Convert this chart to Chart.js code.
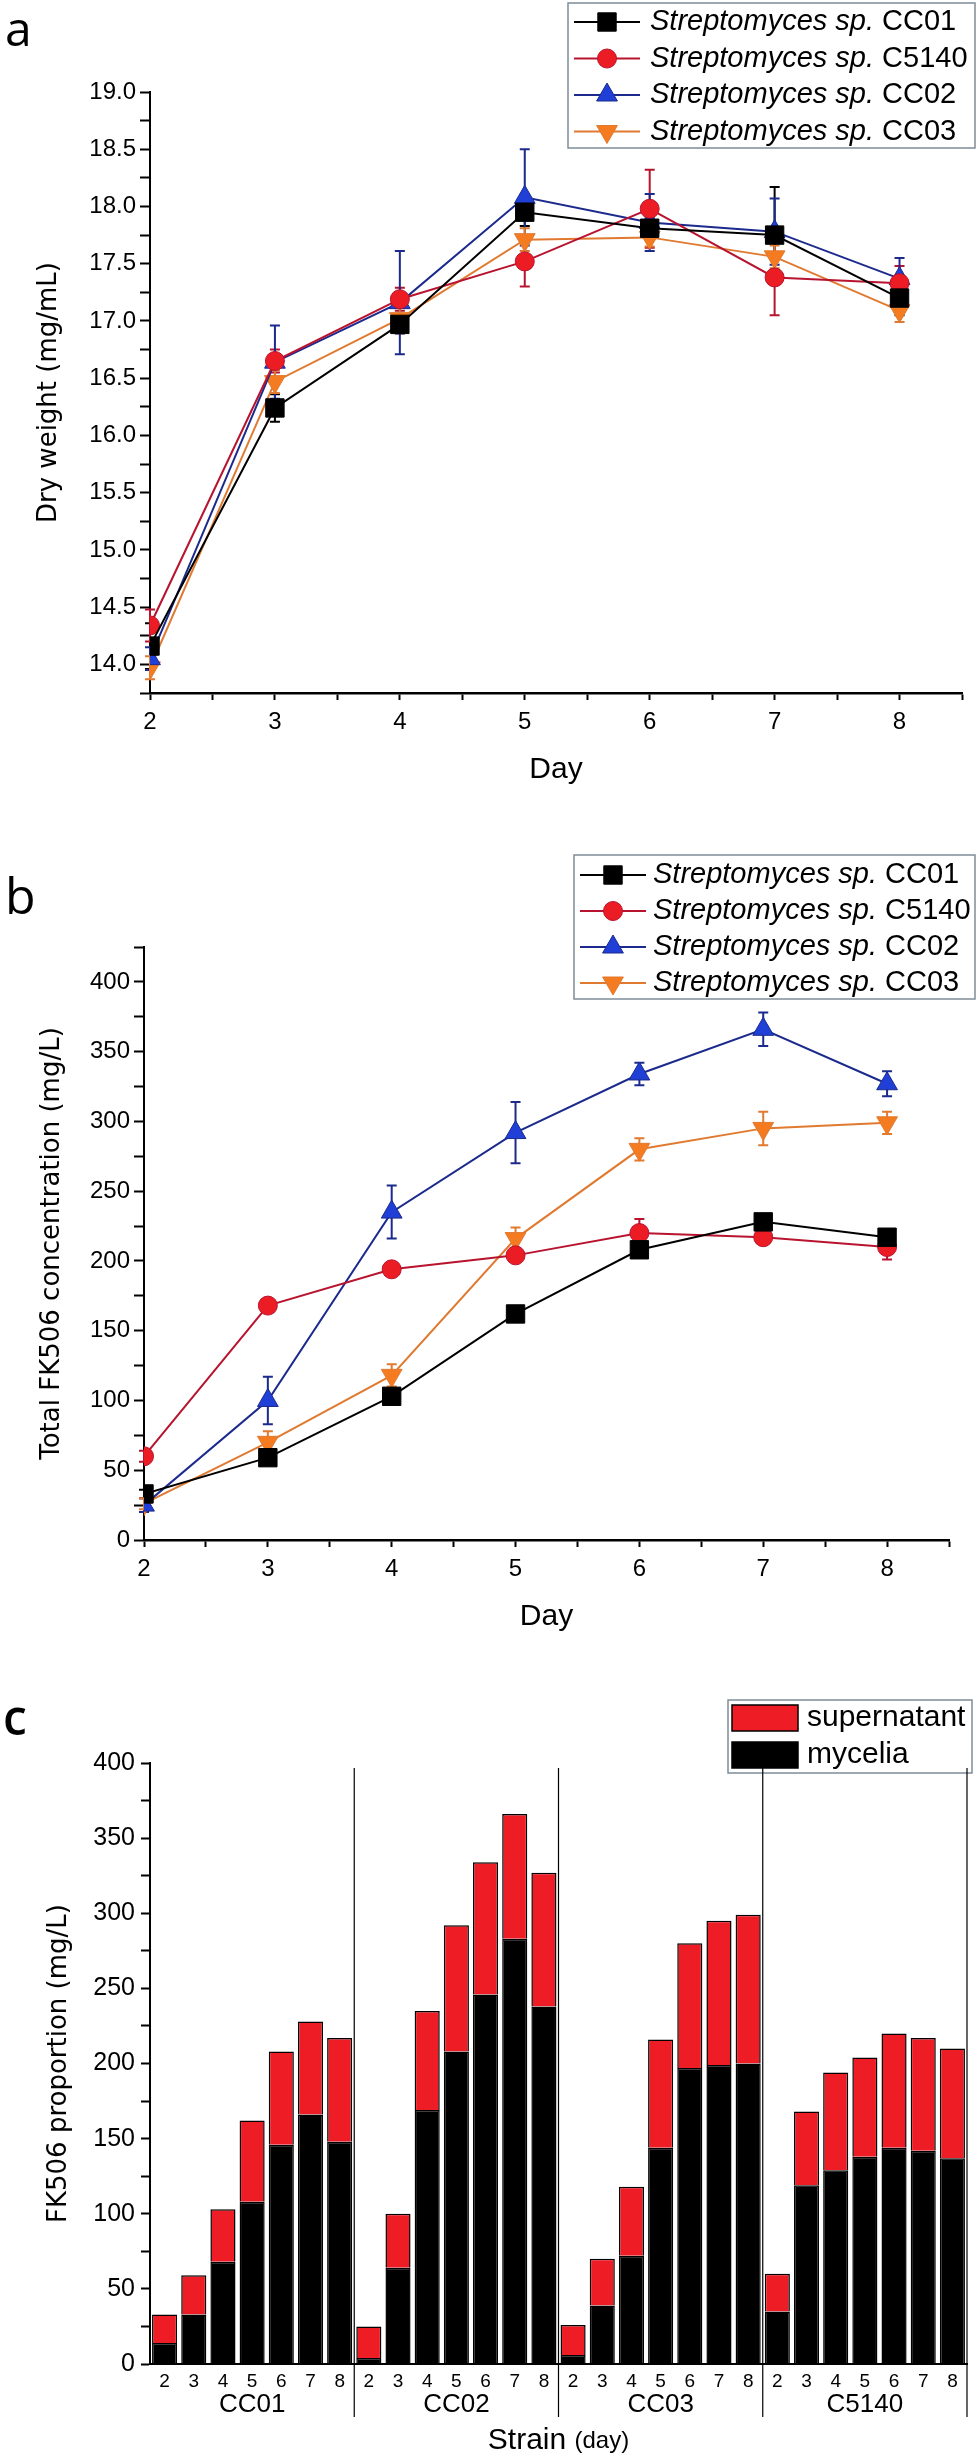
<!DOCTYPE html>
<html>
<head>
<meta charset="utf-8">
<script src="https://cdn.jsdelivr.net/npm/chart.js@4.4.1/dist/chart.umd.min.js"></script>
<style>
  html, body { margin: 0; padding: 0; background: #fff; }
  #page { position: relative; width: 979px; height: 2458px; background: #fff; overflow: hidden; }
  .panel { position: absolute; left: 0; width: 979px; }
  .tag { position: absolute; font-family: "Open Sans", "Liberation Sans", sans-serif; color: #000; line-height: 1; }
</style>
</head>
<body>
<div id="page">
  <div class="panel" style="top:0; height:800px;"><canvas id="chartA" width="979" height="800"></canvas></div>
  <div class="panel" style="top:800px; height:850px;"><canvas id="chartB" width="979" height="850"></canvas></div>
  <div class="panel" style="top:1650px; height:808px;"><canvas id="chartC" width="979" height="808"></canvas></div>
  <div class="tag" style="left:5px; top:4px; font-size:48px;">a</div>
  <div class="tag" style="left:5px; top:870px; font-size:50px;">b</div>
  <div class="tag" style="left:3px; top:1693px; font-size:48px; font-weight:600;">c</div>
</div>
<script>
// ---- data ----
const days = [2, 3, 4, 5, 6, 7, 8]
const strains = ["CC01", "C5140", "CC02", "CC03"]

// a: dry weight (mg/mL)
const dryCC01 = [14.16, 16.24, 16.97, 17.95, 17.81, 17.75, 17.2]
const dryC5140 = [14.34, 16.65, 17.19, 17.52, 17.98, 17.38, 17.33]
const dryCC02 = [14.05, 16.64, 17.16, 18.08, 17.86, 17.78, 17.37]
const dryCC03 = [13.97, 16.47, 17.02, 17.71, 17.73, 17.56, 17.09]
const dryErrCC01 = [0.2, 0.12, 0.08, 0.12, 0.1, 0.42, 0.15]
const dryErrC5140 = [0.14, 0.1, 0.1, 0.22, 0.34, 0.33, 0.15]
const dryErrCC02 = [0.1, 0.32, 0.45, 0.42, 0.25, 0.29, 0.18]
const dryErrCC03 = [0.1, 0.1, 0.1, 0.1, 0.08, 0.1, 0.1]

// b: total FK506 concentration (mg/L)
const fkCC01 = [33, 59, 103, 162, 208, 228, 217]
const fkC5140 = [60, 168, 194, 204, 220, 217, 210]
const fkCC02 = [25, 100, 235, 292, 334, 366, 327]
const fkCC03 = [26, 70, 118, 216, 280, 295, 299]
const fkErrCC01 = [3, 3, 3, 3, 4, 3, 5]
const fkErrC5140 = [4, 3, 3, 4, 10, 4, 9]
const fkErrCC02 = [5, 17, 19, 22, 8, 12, 9]
const fkErrCC03 = [4, 8, 8, 8, 8, 12, 8]

// c: FK506 held in mycelia (mg/L); the rest of the total is supernatant
const barGroups = ["CC01", "CC02", "CC03", "C5140"]
const myCC01 = [14, 33, 68, 108, 146, 166, 148]
const myCC02 = [4, 64, 169, 208, 246, 283, 238]
const myCC03 = [6, 39, 72, 144, 197, 199, 200]
const myC5140 = [35, 119, 129, 138, 144, 142, 137]

// ---- styles ----
const FONT = "'Liberation Sans', Arial, sans-serif"
const TITLE_FONT = "'DejaVu Sans', sans-serif"

const seriesStyle = {
  CC01: { line: "#000000", fill: "#000000", edge: "#000000", shape: "rect", rot: 0, r: 13 },
  C5140: { line: "#b8142f", fill: "#ec1c24", edge: "#b8142f", shape: "circle", rot: 0, r: 9.5 },
  CC02: { line: "#1b2a8c", fill: "#1f3fd6", edge: "#1b2a8c", shape: "triangle", rot: 0, r: 12 },
  CC03: { line: "#e07a30", fill: "#f47b20", edge: "#e07a30", shape: "triangle", rot: 180, r: 12 },
}

// error bars drawn under the markers
const errorBars = {
  id: "errorBars",
  beforeDatasetsDraw(chart) {
    const { ctx } = chart
    const x = chart.scales.x
    const y = chart.scales.y
    chart.data.datasets.forEach((ds) => {
      if (!ds.errors) return
      ctx.save()
      ctx.strokeStyle = ds.borderColor
      ctx.lineWidth = 2
      ds.data.forEach((p, j) => {
        const e = ds.errors[j]
        const px = x.getPixelForValue(p.x)
        const top = y.getPixelForValue(p.y + e)
        const bot = y.getPixelForValue(p.y - e)
        ctx.beginPath()
        ctx.moveTo(px, top)
        ctx.lineTo(px, bot)
        ctx.moveTo(px - 5, top)
        ctx.lineTo(px + 5, top)
        ctx.moveTo(px - 5, bot)
        ctx.lineTo(px + 5, bot)
        ctx.stroke()
      })
      ctx.restore()
    })
  },
}

// boxed legend with italic genus part
const boxLegend = {
  id: "boxLegend",
  afterDraw(chart, args, opts) {
    if (!opts || !opts.rows) return
    const ctx = chart.ctx
    ctx.save()
    ctx.fillStyle = "#fff"
    ctx.fillRect(opts.x, opts.y, opts.w, opts.h)
    ctx.strokeStyle = "#7f8c97"
    ctx.lineWidth = 1.5
    ctx.strokeRect(opts.x, opts.y, opts.w, opts.h)
    ctx.textBaseline = "middle"
    opts.rows.forEach((row, k) => {
      const cy = opts.y + opts.first + k * opts.step
      const x0 = opts.x + 6
      if (row.swatch) {
        ctx.fillStyle = row.swatch
        ctx.fillRect(x0 - 2, cy - 13, 66, 26)
        ctx.strokeStyle = "#000"
        ctx.lineWidth = 1.5
        ctx.strokeRect(x0 - 2, cy - 13, 66, 26)
      } else {
        const st = seriesStyle[row.name]
        ctx.strokeStyle = st.line
        ctx.lineWidth = 2
        ctx.beginPath()
        ctx.moveTo(x0, cy)
        ctx.lineTo(x0 + 66, cy)
        ctx.stroke()
        ctx.fillStyle = st.fill
        ctx.strokeStyle = st.edge
        ctx.lineWidth = 1
        Chart.helpers.drawPoint(ctx, { pointStyle: st.shape, rotation: st.rot, radius: st.r, borderWidth: 1 }, x0 + 33, cy)
      }
      ctx.fillStyle = "#000"
      let tx = opts.x + opts.textX
      if (row.italic) {
        ctx.font = "italic " + opts.size + "px " + FONT
        ctx.fillText(row.italic, tx, cy)
        tx += ctx.measureText(row.italic).width
      }
      ctx.font = opts.size + "px " + FONT
      ctx.fillText(row.text, tx, cy)
    })
    ctx.restore()
  },
}

Chart.register(errorBars, boxLegend)

const fixWidth = (w) => (scale) => { scale.width = w }
const fixHeight = (h) => (scale) => { scale.height = h }
const isStep = (v, s) => Math.abs(v / s - Math.round(v / s)) < 1e-6

function lineDatasets(values, errors) {
  return strains.map((name, i) => {
    const st = seriesStyle[name]
    return {
      label: "Streptomyces sp. " + name,
      data: days.map((d, j) => ({ x: d, y: values[i][j] })),
      errors: errors[i],
      borderColor: st.line,
      borderWidth: 2,
      pointStyle: st.shape,
      pointRotation: st.rot,
      pointRadius: st.r,
      pointHoverRadius: st.r,
      pointBackgroundColor: st.fill,
      pointBorderColor: st.edge,
      pointBorderWidth: 1,
      tension: 0,
    }
  })
}

function legendRows() {
  return strains.map((name) => ({ name: name, italic: "Streptomyces sp.", text: " " + name }))
}

function lineOptions(c) {
  return {
    responsive: false,
    animation: false,
    events: [],
    layout: { padding: { top: c.top, right: c.right, left: 0, bottom: 0 } },
    plugins: {
      legend: { display: false },
      tooltip: { enabled: false },
      boxLegend: c.legend,
    },
    scales: {
      x: {
        type: "linear",
        min: 2,
        max: 8.5,
        afterFit: fixHeight(c.xh),
        ticks: {
          stepSize: 0.5,
          autoSkip: false,
          maxRotation: 0,
          padding: 8,
          color: "#000",
          font: { family: FONT, size: 24 },
          callback: (v) => (isStep(v, 1) ? String(v) : ""),
        },
        grid: { drawOnChartArea: false, tickLength: 7, tickColor: "#000", tickWidth: 2 },
        border: { color: "#000", width: 2.5 },
        title: { display: true, text: "Day", color: "#000", font: { family: FONT, size: 30 }, padding: { top: 0, bottom: c.xtp } },
      },
      y: {
        min: c.ymin,
        max: c.ymax,
        afterFit: fixWidth(c.yw),
        ticks: {
          stepSize: c.ystep,
          autoSkip: false,
          padding: 4,
          color: "#000",
          font: { family: FONT, size: 24 },
          callback: (v) => (isStep(v, c.ylab) ? v.toFixed(c.ydec) : ""),
        },
        grid: { drawOnChartArea: false, tickLength: 10, tickColor: "#000", tickWidth: 2 },
        border: { color: "#000", width: 2 },
        title: { display: true, text: c.ytitle, color: "#000", font: { family: TITLE_FONT, size: 26 }, padding: { top: c.ytp, bottom: 0 } },
      },
    },
  }
}

// ---- panel a ----
new Chart(document.getElementById("chartA"), {
  type: "line",
  data: {
    datasets: lineDatasets([dryCC01, dryC5140, dryCC02, dryCC03], [dryErrCC01, dryErrC5140, dryErrCC02, dryErrCC03]),
  },
  options: lineOptions({
    top: 92, right: 17, xh: 107, yw: 150, xtp: 12, ytp: 34,
    ymin: 13.75, ymax: 19, ystep: 0.25, ylab: 0.5, ydec: 1,
    ytitle: "Dry weight (mg/mL)",
    legend: { x: 568, y: 3, w: 407, h: 145, first: 19, step: 36.5, textX: 82, size: 29, rows: legendRows() },
  }),
})

// ---- panel b ----
new Chart(document.getElementById("chartB"), {
  type: "line",
  data: {
    datasets: lineDatasets([fkCC01, fkC5140, fkCC02, fkCC03], [fkErrCC01, fkErrC5140, fkErrCC02, fkErrCC03]),
  },
  options: lineOptions({
    top: 147, right: 30, xh: 110, yw: 144, xtp: 15, ytp: 37,
    ymin: 0, ymax: 425, ystep: 25, ylab: 50, ydec: 0,
    ytitle: "Total FK506 concentration (mg/L)",
    legend: { x: 574, y: 55, w: 401, h: 144, first: 20, step: 36, textX: 79, size: 29, rows: legendRows() },
  }),
})

// ---- panel c ----
const totalsByGroup = { CC01: fkCC01, CC02: fkCC02, CC03: fkCC03, C5140: fkC5140 }
const myceliaByGroup = { CC01: myCC01, CC02: myCC02, CC03: myCC03, C5140: myC5140 }
const barLabels = barGroups.flatMap(() => days.map(String))
const mycelia = barGroups.flatMap((g) => myceliaByGroup[g])
const supernatant = barGroups.flatMap((g) => totalsByGroup[g].map((t, j) => t - myceliaByGroup[g][j]))

const groupMarks = {
  id: "groupMarks",
  afterDraw(chart) {
    if (chart.canvas.id !== "chartC") return
    const { ctx, chartArea } = chart
    const x = chart.scales.x
    const step = x.getPixelForValue(1) - x.getPixelForValue(0)
    ctx.save()
    ctx.strokeStyle = "#000"
    ctx.lineWidth = 1.2
    ctx.fillStyle = "#000"
    ctx.textAlign = "center"
    ctx.textBaseline = "middle"
    ctx.font = "26px " + FONT
    barGroups.forEach((g, k) => {
      const first = x.getPixelForValue(k * days.length)
      const last = x.getPixelForValue(k * days.length + days.length - 1)
      const edge = last + step / 2
      ctx.beginPath()
      ctx.moveTo(edge, chartArea.top + 5)
      ctx.lineTo(edge, chartArea.bottom + 53)
      ctx.stroke()
      ctx.fillText(g, (first + last) / 2, chartArea.bottom + 41)
    })
    // axis title with smaller "(day)"
    ctx.textAlign = "left"
    const a = "Strain "
    ctx.font = "30px " + FONT
    const wa = ctx.measureText(a).width
    ctx.font = "24px " + FONT
    const wb = ctx.measureText("(day)").width
    const sx = (chartArea.left + chartArea.right) / 2 - (wa + wb) / 2
    ctx.font = "30px " + FONT
    ctx.fillText(a, sx, chartArea.bottom + 77)
    ctx.font = "24px " + FONT
    ctx.fillText("(day)", sx + wa, chartArea.bottom + 77)
    ctx.restore()
  },
}

new Chart(document.getElementById("chartC"), {
  type: "bar",
  data: {
    labels: barLabels,
    datasets: [
      { label: "mycelia", data: mycelia, backgroundColor: "#000", borderColor: "#000", borderWidth: 1.5, barPercentage: 0.86, categoryPercentage: 1 },
      { label: "supernatant", data: supernatant, backgroundColor: "#ee1c25", borderColor: "#000", borderWidth: 1.5, barPercentage: 0.86, categoryPercentage: 1 },
    ],
  },
  plugins: [groupMarks],
  options: {
    responsive: false,
    animation: false,
    events: [],
    layout: { padding: { top: 113, right: 12, left: 0, bottom: 0 } },
    plugins: {
      legend: { display: false },
      tooltip: { enabled: false },
      boxLegend: {
        x: 728, y: 50, w: 244, h: 73, first: 18, step: 37, textX: 79, size: 30,
        rows: [
          { swatch: "#ee1c25", text: "supernatant" },
          { swatch: "#000", text: "mycelia" },
        ],
      },
    },
    scales: {
      x: {
        stacked: true,
        afterFit: fixHeight(94),
        ticks: { autoSkip: false, maxRotation: 0, padding: 6, color: "#000", font: { family: FONT, size: 19 } },
        grid: { drawOnChartArea: false, drawTicks: false },
        border: { color: "#000", width: 2 },
      },
      y: {
        stacked: true,
        min: 0,
        max: 400,
        afterFit: fixWidth(150),
        ticks: {
          stepSize: 25,
          autoSkip: false,
          padding: 6,
          color: "#000",
          font: { family: FONT, size: 25 },
          callback: (v) => (isStep(v, 50) ? String(v) : ""),
        },
        grid: { drawOnChartArea: false, tickLength: 9, tickColor: "#000", tickWidth: 2 },
        border: { color: "#000", width: 2 },
        title: { display: true, text: "FK506 proportion (mg/L)", color: "#000", font: { family: TITLE_FONT, size: 26 }, padding: { top: 44, bottom: 0 } },
      },
    },
  },
})
</script>
</body>
</html>
